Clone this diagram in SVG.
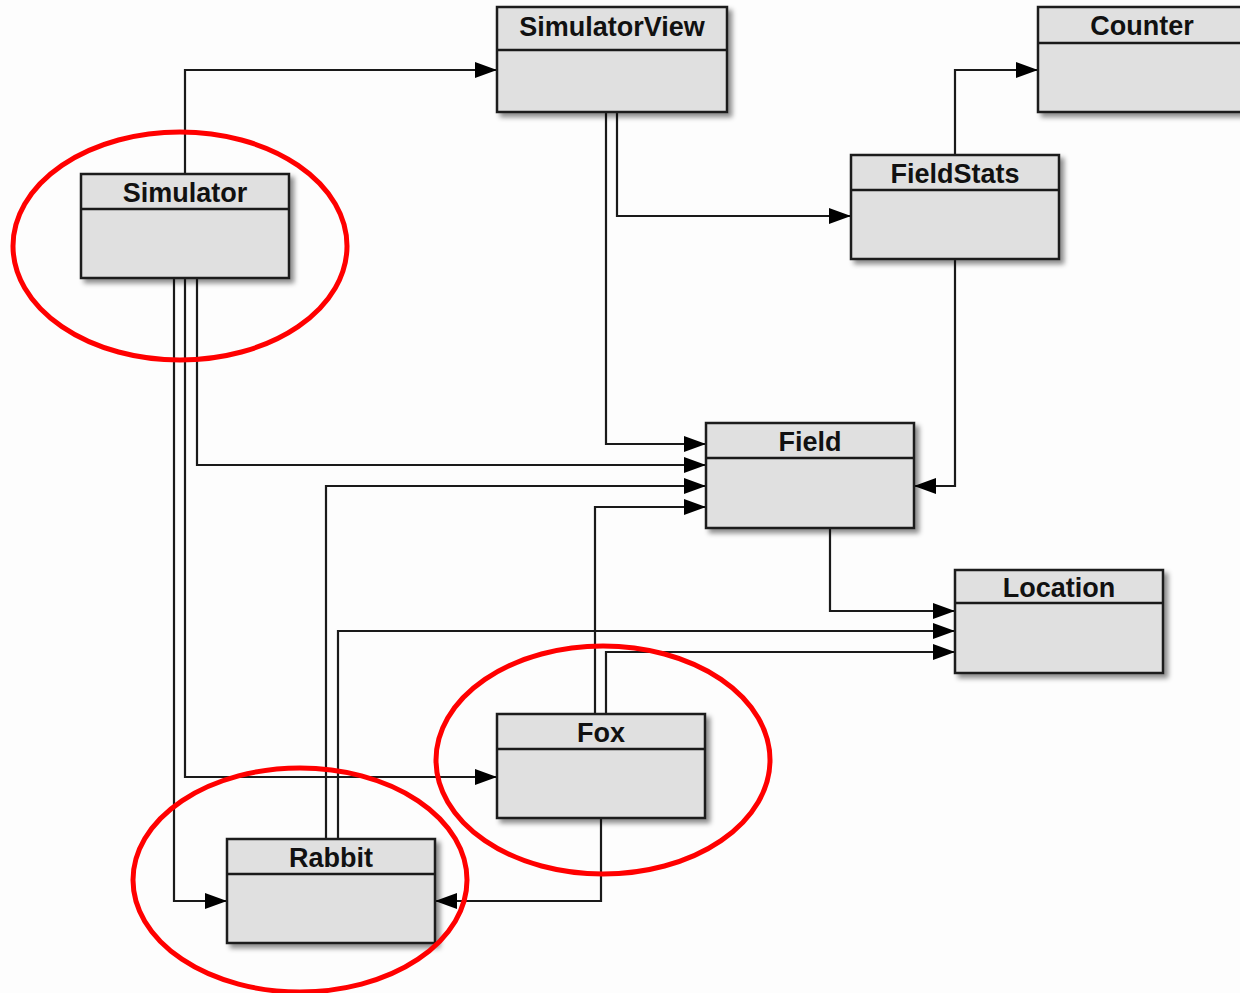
<svg xmlns="http://www.w3.org/2000/svg" width="1240" height="993" viewBox="0 0 1240 993">
<defs>
<style>
.box{fill:#e0e0e0;stroke:#1a1a1a;stroke-width:2.5;filter:url(#sh)}
.div{stroke:#1a1a1a;stroke-width:2.5}
.title{font-family:"Liberation Sans",Arial,sans-serif;font-weight:bold;font-size:27px;fill:#111;text-anchor:middle}
.conn{fill:none;stroke:#1a1a1a;stroke-width:2.2;marker-end:url(#arr)}
.hl{fill:none;stroke:#ff0000;stroke-width:5}
</style>
<filter id="sh" x="-10%" y="-10%" width="130%" height="130%">
<feDropShadow dx="4" dy="4" stdDeviation="2.5" flood-color="#000" flood-opacity="0.45"/>
</filter>
<marker id="arr" markerUnits="userSpaceOnUse" markerWidth="24" markerHeight="18" refX="22" refY="8" orient="auto">
<path d="M0,0 L22,8 L0,16 z" fill="#000"/>
</marker>
</defs>
<rect x="0" y="0" width="1240" height="993" fill="#fdfdfd"/>
<g id="connectors">
<path class="conn" d="M185,174 V70 H497"/>
<path class="conn" d="M197,278 V465 H706"/>
<path class="conn" d="M185,278 V777 H497"/>
<path class="conn" d="M174,278 V901 H227"/>
<path class="conn" d="M606,112 V444 H706"/>
<path class="conn" d="M617,112 V216 H851"/>
<path class="conn" d="M955,155 V70 H1038"/>
<path class="conn" d="M955,259 V486 H914"/>
<path class="conn" d="M326,839 V486 H706"/>
<path class="conn" d="M338,839 V631 H955"/>
<path class="conn" d="M595,714 V507 H706"/>
<path class="conn" d="M606,714 V652 H955"/>
<path class="conn" d="M601,818 V901 H435"/>
<path class="conn" d="M830,528 V611 H955"/>
</g>
<g id="SimulatorView">
<rect class="box" x="497" y="7" width="230" height="105"/>
<line class="div" x1="497" y1="50" x2="727" y2="50"/>
<text class="title" x="612" y="36">SimulatorView</text>
</g>
<g id="Counter">
<rect class="box" x="1038" y="7" width="208" height="105"/>
<line class="div" x1="1038" y1="43" x2="1246" y2="43"/>
<text class="title" x="1142" y="35">Counter</text>
</g>
<g id="Simulator">
<rect class="box" x="81" y="174" width="208" height="104"/>
<line class="div" x1="81" y1="209" x2="289" y2="209"/>
<text class="title" x="185" y="202">Simulator</text>
</g>
<g id="FieldStats">
<rect class="box" x="851" y="155" width="208" height="104"/>
<line class="div" x1="851" y1="190" x2="1059" y2="190"/>
<text class="title" x="955" y="183">FieldStats</text>
</g>
<g id="Field">
<rect class="box" x="706" y="423" width="208" height="105"/>
<line class="div" x1="706" y1="458" x2="914" y2="458"/>
<text class="title" x="810" y="451">Field</text>
</g>
<g id="Location">
<rect class="box" x="955" y="570" width="208" height="103"/>
<line class="div" x1="955" y1="603" x2="1163" y2="603"/>
<text class="title" x="1059" y="597">Location</text>
</g>
<g id="Fox">
<rect class="box" x="497" y="714" width="208" height="104"/>
<line class="div" x1="497" y1="749" x2="705" y2="749"/>
<text class="title" x="601" y="742">Fox</text>
</g>
<g id="Rabbit">
<rect class="box" x="227" y="839" width="208" height="104"/>
<line class="div" x1="227" y1="874" x2="435" y2="874"/>
<text class="title" x="331" y="867">Rabbit</text>
</g>
<g id="highlights">
<ellipse class="hl" cx="180" cy="246" rx="167" ry="114"/>
<ellipse class="hl" cx="603" cy="760" rx="167" ry="114"/>
<ellipse class="hl" cx="300" cy="880" rx="167" ry="112"/>
</g>
</svg>
